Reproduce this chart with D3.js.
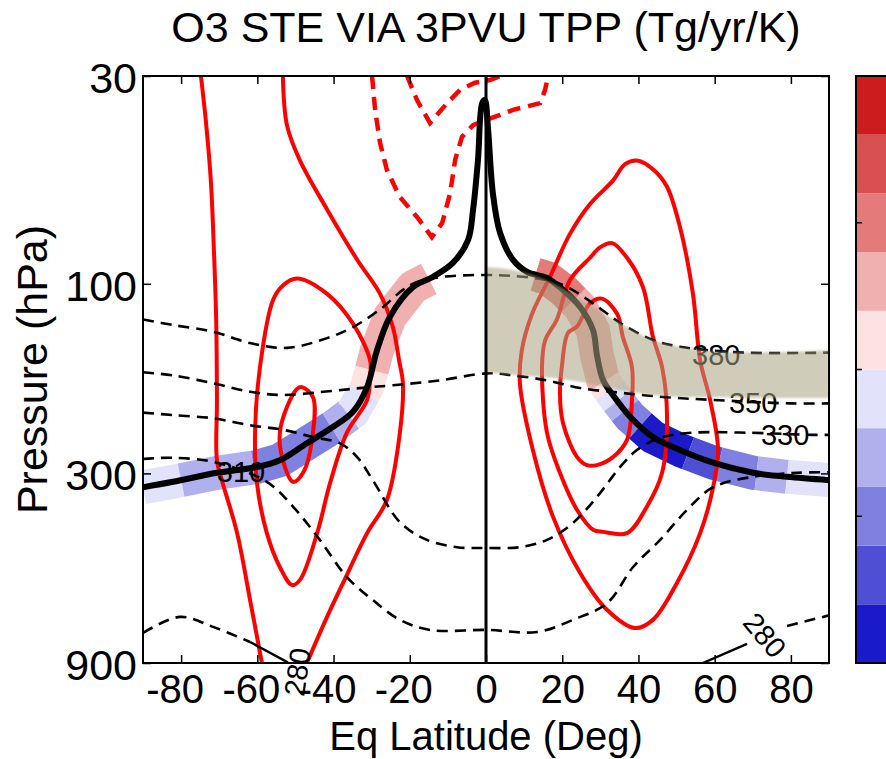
<!DOCTYPE html>
<html>
<head>
<meta charset="utf-8">
<script src="https://cdn.jsdelivr.net/npm/d3@7"></script>
<style>
  body { margin: 0; background: #fff; }
  text { font-family: "Liberation Sans", Arial, Helvetica, sans-serif; }
</style>
</head>
<body>
<div id="chart"></div>
<script>
const FRAME_WIDTH = 886;
const FRAME_HEIGHT = 759;
const MARGINS = { left: 143, right: 57, top: 76, bottom: 96 };

// ---- data: [eq latitude (deg), pressure (hPa)] ----
const latTicks = [-80, -60, -40, -20, 0, 20, 40, 60, 80];
const presTicks = [30, 100, 300, 900];

// colour bar (Tg/yr/K), low -> high
const cbLevels = [-5, -4, -3, -2, -1, 0, 1, 2, 3, 4, 5];
const cbColors = ["#1a1ac8", "#4f4fd6", "#8080e0", "#b0b0ee", "#e2e2fa",
                  "#fde2e2", "#f0b0b0", "#e47b7b", "#d95050", "#cc1c1c"];
const cbTicks = [-2.5, 0, 2.5];

// red contours (positive, solid)
const redOuterSH = [[-74.8,30],[-73.5,39],[-72.2,55],[-71.4,82],[-70.8,123],[-70.6,196],[-70.6,278],[-69.3,312],[-65.3,424],[-61.9,625],[-58.8,900]];
const redMidSH = [[-53.3,30],[-52.2,40],[-48.8,49],[-41.7,65],[-33.8,87],[-27.8,106],[-24.4,129],[-22.8,156],[-21.8,178],[-22.6,237],[-26,350],[-31.2,424],[-37.5,566],[-41.7,689],[-47,900]];
const redLoopSH = [[-49.6,97],[-41.7,106],[-34.9,126],[-30.4,156],[-30.4,170],[-31.2,196],[-36.5,237],[-40.9,317],[-44.3,424],[-48.8,556],[-50.9,573],[-54.1,516],[-57.5,424],[-60.1,317],[-60.6,237],[-59.3,162],[-55.9,110],[-53.3,101]];
const redCoreSH = [[-48.3,182],[-45.4,193],[-45.4,237],[-48,299],[-50.6,315],[-53.5,273],[-54.1,237],[-52.2,204],[-49.6,184]];
const redOuterNH = [[39.9,49],[44.3,52],[47.5,57],[50.9,72],[54.3,106],[56.2,156],[58.8,196],[60.9,262],[59.6,325],[56.2,424],[50.1,566],[43.8,701],[39.1,735],[31.8,662],[24.7,534],[17.6,386],[12.3,262],[8.9,178],[9.4,147],[12.1,119],[16.8,96],[22,75],[27.3,63],[33.3,55],[36.5,50]];
const redMidNH = [[33.1,79],[37,86],[41.2,102],[43.8,136],[46.2,162],[47.5,216],[46.2,299],[42.2,364],[37,424],[30.7,421],[28.1,416],[23.9,371],[19.4,299],[16,237],[14.7,162],[15.5,139],[18.6,123],[22,98],[27.3,86],[29.9,81]];
const redCoreNH = [[30.4,109],[34.4,119],[35.9,136],[38.3,162],[38.3,196],[37,247],[33.3,273],[29.1,286],[26.5,286],[23.9,273],[20.2,224],[19.4,188],[19.9,162],[21.5,133],[23.9,128],[27.3,112]];

// red contours (negative, dashed)
const redNegUpper = [[-20.7,30],[-18.1,34.5],[-14.7,39.4],[-10.2,35.1],[-6.8,32.5],[-2.9,31.2],[1,30.7],[3.7,30]];
const redNegLower = [[-29.9,30],[-29.1,36.5],[-27.8,44.2],[-26,51.7],[-22.6,60.5],[-18.1,67.9],[-14.2,76.3],[-11.5,70.3],[-9.4,59.1],[-8.1,48.8],[-6.3,42.7],[-3.4,39.9],[0,38.7],[3.7,37.6],[7.1,36.5],[14.2,35.1],[15.5,32.5],[16.3,30]];

// potential temperature (K) contours
const theta380 = [[-90,123],[-82.1,127],[-71.6,132],[-61.9,141],[-52.2,145],[-41.7,137],[-34.9,128.5],[-27.8,116],[-21.8,103.6],[-18.1,99],[-12.1,96.2],[-0.8,95],[7.1,95.6],[16,97.9],[21.3,101.9],[28.1,112],[35.2,125.5],[43.8,138.5],[50.9,144],[67.4,149],[90,149]];
const theta350 = [[-90,167],[-82.1,170],[-71.6,178],[-61.9,187],[-53.3,190.5],[-42.8,187],[-33.1,183],[-24.4,180],[-12.1,175],[0.3,168],[7.1,170],[16,175],[24.7,183],[35.2,188],[47.5,193],[59.6,196],[79.8,200],[90,200]];
const theta330 = [[-90,211],[-82.1,214],[-71.6,218],[-61.9,227],[-53.3,233],[-45.4,243],[-38.3,252],[-33.8,273],[-29.7,312],[-22.6,398],[-15.5,441],[-7.6,460],[0.3,462],[8.9,460],[16,441],[22.8,400],[29.1,344],[35.2,289],[39.6,262],[45.7,244],[54.3,237],[68.5,237],[85.8,240],[90,240]];
const theta310 = [[-90,276],[-82.1,274],[-70.6,282],[-57.5,315],[-50.6,364],[-43.6,441],[-36.5,547],[-29.7,625],[-22.6,701],[-14.7,743],[0.3,743],[13.4,752],[22.8,701],[31.8,636],[38.6,516],[45.7,441],[52.7,371],[59.6,325],[70.1,306],[81.6,299],[90,298]];
const theta280SHdash = [[-90,756],[-80.3,689],[-71.6,730],[-61.9,797]];
const theta280SHsolid = [[-61.9,797],[-52.2,895],[-51,920]];
const theta280NHsolid = [[56.9,900],[68.5,806]];
const theta280NHdash = [[79,726],[90,683]];

const contourLabels = [
  { text: "380", lat: 60.4, p: 151, rot: 0 },
  { text: "350", lat: 70.1, p: 199.5, rot: 0 },
  { text: "330", lat: 78.5, p: 239, rot: 0 },
  { text: "310", lat: -64.3, p: 296, rot: 0 },
  { text: "280", lat: -49.6, p: 948, rot: -82 },
  { text: "280", lat: 73.2, p: 765, rot: 50 }
];

// 3 PVU tropopause
const tpLine = [[-90,325],[-82.1,315],[-70.6,299],[-60.1,289],[-54.1,278],[-47,252],[-40.1,229],[-34.9,210],[-31.2,182],[-28.6,147],[-25.2,121],[-19.2,102],[-13.9,96],[-8.7,88.6],[-4.7,77.6],[-3.4,65.2],[-2.1,48.8],[-1,35.1],[-0.3,34.5],[0.5,40.3],[1.8,59.1],[3.7,74.5],[7.1,87.1],[10.8,93.4],[16,96.7],[20.2,103.6],[24.7,114.4],[28.1,131],[29.1,151],[30.7,174.6],[33.3,190.5],[37.8,216],[43.8,243],[50.9,262],[59.6,282],[70.1,299],[79,306],[90,312]];

// STE flux along the tropopause: bin edges (lat) and values
const steEdgesSH = [-90, -80, -61, -40.5, -36, -32, -30, -15];
const steValsSH = [-0.5, -1.5, -2.5, -1.5, -0.5, 0.5, 1.5];
const steEdgesNH = [13, 23, 31, 32.5, 34.5, 36.5, 40.5, 53, 61, 71, 79, 90];
const steValsNH = [2.5, 1.5, 0.5, -0.5, -1.5, -2.5, -4.5, -3.5, -2.5, -1.5, -0.5];

// shaded layer (NH)
const tanLat = [0, 7.1, 17.6, 26.5, 35.2, 43.8, 52.7, 61.4, 70.1, 90];
const tanTop = [90.7, 92.3, 99.5, 112, 125.5, 138.5, 145, 148.4, 149, 146.7];
const tanBot = [166.7, 169.6, 172.6, 177.7, 185, 190.5, 192.7, 192.7, 193.8, 193.8];

// ---- frame ----
let svg = d3.select("#chart")
  .append("svg")
  .attr("width", FRAME_WIDTH)
  .attr("height", FRAME_HEIGHT);

let x = d3.scaleLinear().domain([-90, 90]).range([MARGINS.left, FRAME_WIDTH - MARGINS.right]);
let y = d3.scaleLog().domain([30, 900]).range([MARGINS.top, FRAME_HEIGHT - MARGINS.bottom]);
let color = d3.scaleThreshold().domain(cbLevels.slice(1, -1)).range(cbColors);

let plotW = x.range()[1] - x.range()[0];
let plotH = y.range()[1] - y.range()[0];

let defs = svg.append("defs");
defs.append("clipPath").attr("id", "plotclip")
  .append("rect")
  .attr("x", MARGINS.left).attr("y", MARGINS.top)
  .attr("width", plotW).attr("height", plotH);
defs.append("filter").attr("id", "soft")
  .attr("x", "-5%").attr("y", "-20%").attr("width", "110%").attr("height", "140%")
  .append("feGaussianBlur").attr("stdDeviation", 1.3);

let smooth = d3.line().x(d => x(d[0])).y(d => y(d[1])).curve(d3.curveCatmullRom.alpha(0.5));
let closed = d3.line().x(d => x(d[0])).y(d => y(d[1])).curve(d3.curveCatmullRomClosed.alpha(0.5));
let straight = d3.line().x(d => x(d[0])).y(d => y(d[1]));

function tpAt(lat) {
  for (let i = 0; i < tpLine.length - 1; i++) {
    let a = tpLine[i], b = tpLine[i + 1];
    if (lat >= a[0] && lat <= b[0]) {
      let t = (lat - a[0]) / (b[0] - a[0]);
      return Math.exp(Math.log(a[1]) + t * (Math.log(b[1]) - Math.log(a[1])));
    }
  }
  return tpLine[tpLine.length - 1][1];
}

function bandPieces(edges, vals) {
  return vals.map((v, i) => {
    let lo = edges[i], hi = edges[i + 1];
    let pts = [[lo, tpAt(lo)]]
      .concat(tpLine.filter(d => d[0] > lo && d[0] < hi))
      .concat([[hi, tpAt(hi)]]);
    return { value: v, pts: pts };
  });
}

let plot = svg.append("g").attr("clip-path", "url(#plotclip)");

// STE band along tropopause
plot.selectAll(".ste")
  .data(bandPieces(steEdgesSH, steValsSH).concat(bandPieces(steEdgesNH, steValsNH)))
  .enter()
  .append("path")
  .attr("class", "ste")
  .attr("d", d => straight(d.pts))
  .attr("fill", "none")
  .attr("stroke", d => color(d.value))
  .attr("stroke-width", 34)
  .attr("stroke-linecap", "butt")
  .attr("stroke-linejoin", "round");

// red contours
[redOuterSH, redMidSH].forEach(c => {
  plot.append("path").attr("d", smooth(c))
    .attr("fill", "none").attr("stroke", "#ff0000").attr("stroke-width", 4);
});
[redLoopSH, redCoreSH, redOuterNH, redMidNH, redCoreNH].forEach(c => {
  plot.append("path").attr("d", closed(c))
    .attr("fill", "none").attr("stroke", "#ff0000").attr("stroke-width", 4);
});
[redNegUpper, redNegLower].forEach(c => {
  plot.append("path").attr("d", straight(c))
    .attr("fill", "none").attr("stroke", "#ff0000").attr("stroke-width", 4.5)
    .attr("stroke-dasharray", "13,8");
});

// theta contours
[theta380, theta350, theta330, theta310, theta280SHdash, theta280NHdash].forEach(c => {
  plot.append("path").attr("d", smooth(c))
    .attr("fill", "none").attr("stroke", "#000").attr("stroke-width", 2.6)
    .attr("stroke-dasharray", "11,7");
});
[theta280SHsolid, theta280NHsolid].forEach(c => {
  plot.append("path").attr("d", straight(c))
    .attr("fill", "none").attr("stroke", "#000").attr("stroke-width", 2.4);
});

// tropopause
plot.append("path").attr("d", smooth(tpLine))
  .attr("fill", "none").attr("stroke", "#000").attr("stroke-width", 6)
  .attr("stroke-linejoin", "round");

// contour labels
svg.selectAll(".clab")
  .data(contourLabels)
  .enter()
  .append("text")
  .attr("class", "clab")
  .attr("transform", d => "translate(" + x(d.lat) + "," + y(d.p) + ") rotate(" + d.rot + ")")
  .attr("text-anchor", "middle")
  .attr("dy", "0.36em")
  .attr("font-size", 29)
  .attr("fill", "#000")
  .text(d => d.text);

// shaded layer on top
let tanData = tanLat.map((v, i) => ({ lat: v, top: tanTop[i], bot: tanBot[i] }));
svg.append("g").attr("clip-path", "url(#plotclip)")
  .append("path")
  .attr("d", d3.area().x(d => x(d.lat)).y0(d => y(d.bot)).y1(d => y(d.top)).curve(d3.curveMonotoneX)(tanData))
  .attr("fill", "#aaa382")
  .attr("fill-opacity", 0.55)
  .attr("filter", "url(#soft)");

// zero line
svg.append("line")
  .attr("x1", x(0)).attr("x2", x(0))
  .attr("y1", y(30)).attr("y2", y(900))
  .attr("stroke", "#000").attr("stroke-width", 3);

// axes
let bottomAxis = svg.append("g")
  .attr("transform", "translate(0," + y(900) + ")")
  .call(d3.axisBottom(x).tickValues(latTicks).tickSize(-8).tickPadding(12).tickFormat(d => String(d)));
let topAxis = svg.append("g")
  .attr("transform", "translate(0," + y(30) + ")")
  .call(d3.axisTop(x).tickValues(latTicks).tickSize(-8).tickFormat(""));
let leftAxis = svg.append("g")
  .attr("transform", "translate(" + x(-90) + ",0)")
  .call(d3.axisLeft(y).tickValues(presTicks).tickSize(-8).tickPadding(6).tickFormat(d3.format("d")));
let rightAxis = svg.append("g")
  .attr("transform", "translate(" + x(90) + ",0)")
  .call(d3.axisRight(y).tickValues(presTicks).tickSize(-8).tickFormat(""));

[bottomAxis, topAxis, leftAxis, rightAxis].forEach(a => {
  a.select(".domain").remove();
  a.selectAll(".tick line").attr("stroke-width", 1.5);
  a.attr("font-size", 40);
});
leftAxis.attr("font-size", 43);
bottomAxis.selectAll("text").attr("fill", "#000").attr("dx", d => d < 0 ? -6.5 : 0);
leftAxis.selectAll("text").attr("fill", "#000").attr("dy", "0.38em");

svg.append("rect")
  .attr("x", MARGINS.left).attr("y", MARGINS.top)
  .attr("width", plotW).attr("height", plotH)
  .attr("fill", "none").attr("stroke", "#000").attr("stroke-width", 2);

// colour bar
let cbX = 856;
let cbY = d3.scaleLinear().domain([-5, 5]).range([y(900), y(30)]);
svg.selectAll(".cb")
  .data(cbColors)
  .enter()
  .append("rect")
  .attr("class", "cb")
  .attr("x", cbX)
  .attr("y", (d, i) => cbY(cbLevels[i + 1]))
  .attr("width", 40)
  .attr("height", (d, i) => cbY(cbLevels[i]) - cbY(cbLevels[i + 1]))
  .attr("fill", d => d);
svg.append("rect")
  .attr("x", cbX).attr("y", cbY(5))
  .attr("width", 40).attr("height", cbY(-5) - cbY(5))
  .attr("fill", "none").attr("stroke", "#000").attr("stroke-width", 2);
svg.selectAll(".cbtick")
  .data(cbTicks)
  .enter()
  .append("line")
  .attr("x1", cbX).attr("x2", cbX + 6)
  .attr("y1", d => cbY(d)).attr("y2", d => cbY(d))
  .attr("stroke", "#000").attr("stroke-width", 1.5);

// titles
svg.append("text")
  .attr("x", x(0)).attr("y", 42)
  .attr("text-anchor", "middle")
  .attr("font-size", 43)
  .text("O3 STE VIA 3PVU TPP (Tg/yr/K)");

svg.append("text")
  .attr("x", x(0)).attr("y", 750)
  .attr("text-anchor", "middle")
  .attr("font-size", 40)
  .text("Eq Latitude (Deg)");

svg.append("text")
  .attr("transform", "translate(47," + ((y.range()[0] + y.range()[1]) / 2) + ") rotate(-90)")
  .attr("text-anchor", "middle")
  .attr("font-size", 43)
  .text("Pressure (hPa)");
</script>
</body>
</html>
